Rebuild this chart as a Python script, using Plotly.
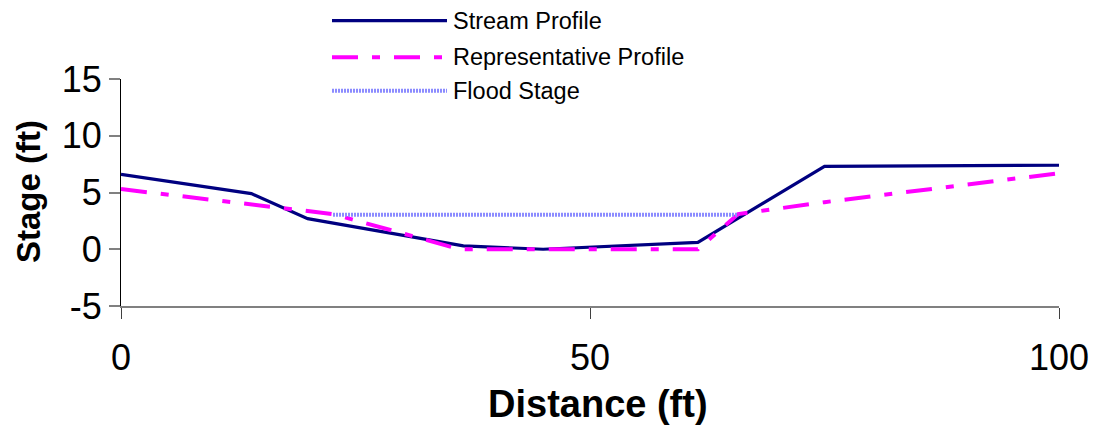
import plotly.graph_objects as go

# ---- data ----
stream_x = [0, 13.9, 19.9, 36.5, 45.0, 61.5, 75.0, 100]
stream_y = [6.6, 4.9, 2.7, 0.3, 0.0, 0.6, 7.3, 7.4]

rep_x = [0, 22.6, 36.1, 61.5, 65.8, 75.0, 100]
rep_y = [5.3, 3.1, 0.0, 0.0, 3.1, 4.15, 6.7]

flood_x = [22.6, 65.8]
flood_y = [3.05, 3.05]

series_names = ["Stream Profile", "Representative Profile", "Flood Stage"]
x_ticks = [0, 50, 100]
y_ticks = [-5, 0, 5, 10, 15]

FONT = "Liberation Sans, Arial, sans-serif"
W, H = 1094, 425
L, R, T, B = 121, 35, 79, 119
PW, PH = W - L - R, H - T - B

styles = [
    dict(color="#000080", width=3.2, dash="solid"),
    dict(color="#ff00ff", width=4, dash="26px,14px,8px,14px"),
    dict(color="#8c8cff", width=4, dash="2px,1px"),
]

fig = go.Figure()
for xs, ys, name, st in zip([stream_x, rep_x, flood_x], [stream_y, rep_y, flood_y], series_names, styles):
    fig.add_trace(go.Scatter(x=xs, y=ys, mode="lines", name=name, line=st,
                             showlegend=False, cliponaxis=False))

def px_x(p):
    return (p - L) / PW

def px_y(p):
    return (H - B - p) / PH

# manual legend (long line samples as in the reference)
rows = [20.7, 57.3, 90.7]
shapes = []
annotations = []
for name, st, ry in zip(series_names, styles, rows):
    shapes.append(dict(type="line", xref="paper", yref="paper",
                       x0=px_x(332), x1=px_x(447), y0=px_y(ry), y1=px_y(ry),
                       line=dict(color=st["color"], width=st["width"], dash=st["dash"])))
    annotations.append(dict(xref="paper", yref="paper", x=px_x(451), y=px_y(ry),
                            xanchor="left", yanchor="middle", showarrow=False,
                            text=name, font=dict(family=FONT, size=23.5, color="black")))

# axis titles as annotations for exact placement
annotations.append(dict(xref="paper", yref="paper", x=px_x(598), y=px_y(404),
                        xanchor="center", yanchor="middle", showarrow=False,
                        text="<b>Distance (ft)</b>", font=dict(family=FONT, size=38, color="black")))
annotations.append(dict(xref="paper", yref="paper", x=px_x(28), y=px_y(192),
                        xanchor="center", yanchor="middle", showarrow=False, textangle=-90,
                        text="<b>Stage (ft)</b>", font=dict(family=FONT, size=33, color="black")))

fig.update_layout(
    width=W, height=H,
    margin=dict(l=L, r=R, t=T, b=B, pad=0),
    paper_bgcolor="white", plot_bgcolor="white",
    font=dict(family=FONT, color="black"),
    shapes=shapes, annotations=annotations,
    xaxis=dict(range=[0, 100], tickvals=x_ticks, ticktext=[str(v) for v in x_ticks],
               showgrid=False, zeroline=False, showline=True, linecolor="#808080", linewidth=1.5,
               ticks="outside", ticklen=11, tickwidth=1, tickcolor="#404040",
               ticklabelstandoff=8, automargin=False,
               tickfont=dict(family=FONT, size=36, color="black")),
    yaxis=dict(range=[-5, 15], tickvals=y_ticks, ticktext=[str(v) for v in y_ticks],
               showgrid=False, zeroline=False, showline=True, linecolor="black", linewidth=1,
               ticks="outside", ticklen=11, tickwidth=1.6, tickcolor="#808080",
               automargin=False,
               tickfont=dict(family=FONT, size=36, color="black")),
)

fig.write_html("out.html")
